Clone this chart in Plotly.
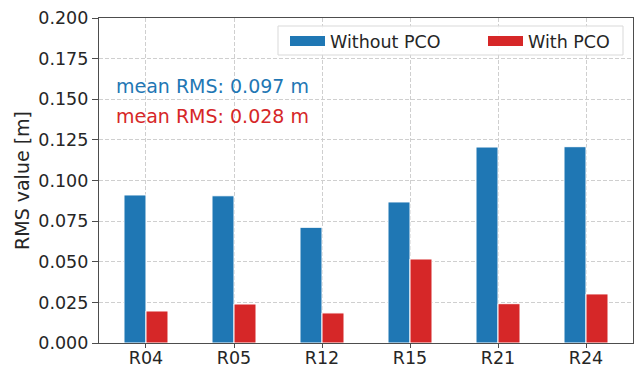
import plotly.graph_objects as go

categories = ["R04", "R05", "R12", "R15", "R21", "R24"]
without_pco = [0.0911, 0.0906, 0.0712, 0.0868, 0.1206, 0.1208]
with_pco = [0.0197, 0.0240, 0.0185, 0.0517, 0.0242, 0.0302]
series_names = ["Without PCO", "With PCO"]
mean_labels = ["mean RMS: 0.097 m", "mean RMS: 0.028 m"]
y_ticks = [0.0, 0.025, 0.05, 0.075, 0.1, 0.125, 0.15, 0.175, 0.2]

BLUE = "#1f77b4"
RED = "#d62728"
TXT = "#262626"
FONT = "DejaVu Sans"

# plot area in pixels (for converting legend placement to paper coords)
L, R, T, B = 99, 3, 18, 24
W, H = 636, 367
PW, PH = W - L - R, H - T - B
def px(x):
    return (x - L) / PW
def py(y):
    return (H - B - y) / PH

fig = go.Figure()
fig.add_bar(x=categories, y=without_pco, name=series_names[0], showlegend=False,
            marker=dict(color=BLUE, line=dict(color="white", width=1)))
fig.add_bar(x=categories, y=with_pco, name=series_names[1], showlegend=False,
            marker=dict(color=RED, line=dict(color="white", width=1)))
# legend entries drawn as wide patches (like the reference)
for name, col, lg in zip(series_names, [BLUE, RED], ["legend", "legend2"]):
    fig.add_scatter(x=[None], y=[None], mode="lines", name=name, legend=lg,
                    line=dict(color=col, width=11))

# legend frame
fig.add_shape(type="rect", xref="paper", yref="paper",
              x0=px(278), x1=px(623), y0=py(55), y1=py(26),
              fillcolor="rgba(255,255,255,0.85)", line=dict(color="#d9d9d9", width=1),
              layer="above")

fig.add_annotation(xref="paper", yref="paper", x=0.028, y=0.791, text=mean_labels[0],
                   showarrow=False, xanchor="left", yanchor="middle",
                   font=dict(family=FONT, size=19, color=BLUE))
fig.add_annotation(xref="paper", yref="paper", x=0.028, y=0.698, text=mean_labels[1],
                   showarrow=False, xanchor="left", yanchor="middle",
                   font=dict(family=FONT, size=19, color=RED))

axis_common = dict(showline=True, linecolor="#4d4d4d", linewidth=1.2, mirror=True,
                   ticks="outside", tickcolor="#4d4d4d", tickwidth=1.2,
                   showgrid=True, gridcolor="#cfcfcf", gridwidth=1, griddash="4px,2px",
                   zeroline=False, automargin=False,
                   tickfont=dict(family=FONT, size=17.5, color=TXT))

leg_common = dict(orientation="h", xanchor="left", yanchor="middle",
                  bgcolor="rgba(0,0,0,0)", borderwidth=0,
                  font=dict(family=FONT, size=17.5, color=TXT), itemwidth=35)

fig.update_layout(
    width=W, height=H,
    margin=dict(l=L, r=R, t=T, b=B),
    paper_bgcolor="white", plot_bgcolor="white",
    barmode="group", bargap=0.5, bargroupgap=0,
    font=dict(family=FONT, color=TXT),
    legend=dict(x=px(285), y=py(41), **leg_common),
    legend2=dict(x=px(483), y=py(41), **leg_common),
    xaxis=dict(range=[-0.534, 5.534], ticklen=4, ticklabelstandoff=-5, **axis_common),
    yaxis=dict(range=[0, 0.2], tickvals=y_ticks, tickformat=".3f", ticklen=6,
               title=dict(text="RMS value [m]", font=dict(family=FONT, size=19, color=TXT), standoff=3),
               **axis_common),
)

fig.write_html("out.html")
